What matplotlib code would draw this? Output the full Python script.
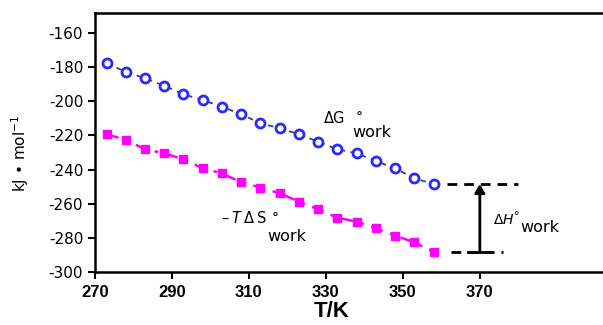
import matplotlib
matplotlib.use("Agg")
import matplotlib.pyplot as plt

plt.rcParams['font.family'] = ['DejaVu Sans']
plt.rcParams['axes.unicode_minus'] = False

# Data
T = [273, 278, 283, 288, 293, 298, 303, 308, 313, 318, 323, 328, 333, 338, 343, 348, 353, 358]
dG_work = [-177.8, -182.7, -186.5, -190.9, -195.9, -199.3, -203.2, -207.6, -212.9, -215.8,
           -219.3, -223.7, -228.1, -230.5, -235.0, -239.3, -245.1, -248.5]
TdS_work = [-219.2, -222.7, -228.0, -230.5, -234.0, -239.3, -242.2, -247.5, -250.5, -253.9,
            -258.8, -263.3, -268.2, -270.5, -274.4, -278.7, -282.6, -288.3]
dH_top = -248.5
dH_bottom = -288.3
dH_x = 370
xticks = [270, 290, 310, 330, 350, 370]
yticks = [-300, -280, -260, -240, -220, -200, -180, -160]

fig = plt.figure(figsize=(6.03, 3.25), dpi=100)
ax = fig.add_axes([0.1575, 0.163, 0.8425, 0.797])

ax.plot(T, dG_work, linestyle=(0, (3, 3)), color='#404070', lw=1.3, zorder=2)
ax.plot(T, dG_work, linestyle='none', marker='o', ms=6.5, mfc='white', mec='#2a2aff', mew=2.0, zorder=3)
ax.plot(T, TdS_work, linestyle=(0, (5, 3, 1.5, 3)), color='#ff00ff', lw=1.8,
        marker='s', ms=6, mfc='#ff00ff', mec='#ff00ff', zorder=3)

# Delta H indicator
ax.plot([361.5, 380], [dH_top, dH_top], color='black', linestyle=(0, (3.5, 2.5)), lw=2)
ax.plot([362.5, 376], [dH_bottom, dH_bottom], color='black', linestyle=(0, (3.5, 2.5)), lw=2)
ax.plot([367, 373], [dH_bottom, dH_bottom], color='black', lw=2)
ax.annotate('', xy=(dH_x, dH_top), xytext=(dH_x, dH_bottom),
            arrowprops=dict(arrowstyle='-|>,head_length=0.5,head_width=0.3', color='black', lw=2,
                            shrinkA=0, shrinkB=0))

# Labels (composed: main symbol, degree sign, subscript "work")
kw = dict(ha='left', va='baseline')
ax.text(329.6, -212.9, 'ΔG', fontsize=10.5, **kw)
ax.text(337.6, -212.0, '°', fontsize=10, **kw)
ax.text(336.8, -220.8, 'work', fontsize=11.5, **kw)

ax.text(302.8, -271.5, '–\u2009$\\it{T}$\u2009Δ\u2009S', fontsize=10.5, **kw)
ax.text(315.8, -271.0, '°', fontsize=10, **kw)
ax.text(314.9, -282.0, 'work', fontsize=11.5, **kw)

ax.text(373.3, -271.8, 'Δ$\\it{H}$', fontsize=10, **kw)
ax.text(378.9, -269.0, '°', fontsize=8, **kw)
ax.text(380.5, -276.4, 'work', fontsize=11.5, **kw)

ax.set_xlim(270, 402)
ax.set_ylim(-300, -148.3)
ax.set_xticks(xticks)
ax.set_yticks(yticks)
for lab in ax.get_xticklabels():
    lab.set_fontfamily('Liberation Sans')
    lab.set_fontweight('bold')
    lab.set_fontsize(12)
for lab in ax.get_yticklabels():
    lab.set_fontsize(11)
ax.tick_params(axis='both', direction='out', length=5, width=1.5)
ax.tick_params(axis='x', pad=4)
for s in ['left', 'bottom', 'top']:
    ax.spines[s].set_linewidth(1.8)
ax.spines['right'].set_visible(False)

ax.set_xlabel('T/K', fontsize=16, fontweight='bold', family='Liberation Sans')
ax.xaxis.set_label_coords(0.465, -0.112)
ax.xaxis.label.set_va('top')
ax.set_ylabel('kJ • mol$^{-1}$', fontsize=11)
ax.yaxis.set_label_coords(-0.125, 0.46)

fig.savefig('out.png', dpi=100)
